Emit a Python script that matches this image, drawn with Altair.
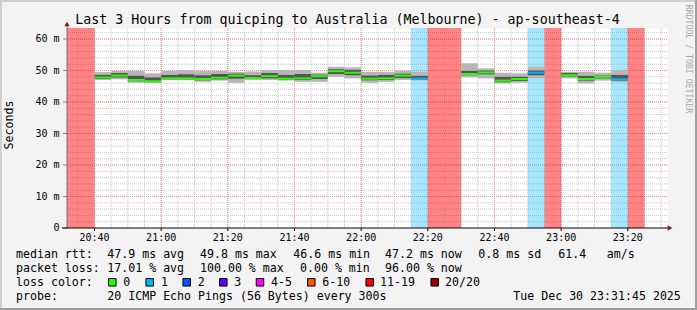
import altair as alt
import pandas as pd

FONT = "DejaVu Sans Mono"

# ---------------- data ----------------
slot_times = ["20:30", "20:35", "20:40", "20:45", "20:50", "20:55", "21:00", "21:05",
              "21:10", "21:15", "21:20", "21:25", "21:30", "21:35", "21:40", "21:45",
              "21:50", "21:55", "22:00", "22:05", "22:10", "22:15", "22:20", "22:25",
              "22:30", "22:35", "22:40", "22:45", "22:50", "22:55", "23:00", "23:05",
              "23:10", "23:15", "23:20"]
lost_pings = [20, 20, 0, 0, 0, 0, 0, 0, 0, 0, 0, 0, 0, 0, 0, 0, 0, 0, 0, 0, 0, 1, 20, 20,
              0, 0, 0, 0, 1, 20, 0, 0, 0, 1, 20]
median_ms = [None, None, 47.8, 48.4, 47.0, 46.6, 47.5, 47.5, 47.3, 47.7, 48.4, 47.6, 48.2,
             47.4, 47.5, 48.2, 49.8, 49.3, 47.4, 47.5, 48.4, 47.4, None, None,
             48.9, 49.4, 46.8, 47.3, 49.3, None, 48.5, 47.3, 48.0, 47.2, None]
smoke_lo = [None, None, 47.0, 47.2, 46.1, 46.1, 47.0, 47.0, 46.4, 46.8, 46.1, 47.0, 47.0,
            46.8, 46.4, 46.4, 48.0, 47.5, 46.1, 46.4, 47.0, 46.8, None, None,
            47.8, 47.5, 45.9, 46.1, 47.5, None, 47.5, 45.9, 46.8, 46.4, None]
smoke_hi = [None, None, 49.5, 49.9, 49.9, 49.1, 49.9, 50.1, 49.9, 49.9, 49.6, 49.7, 50.2,
            50.2, 50.2, 49.3, 51.2, 51.0, 49.6, 49.6, 50.0, 49.6, None, None,
            52.3, 50.7, 49.3, 49.1, 51.2, None, 49.6, 49.6, 49.3, 50.2, None]
core_lo = [None, None, 47.3, 47.8, 46.6, 46.3, 47.2, 47.2, 46.9, 47.2, 47.4, 47.3, 47.5,
           47.1, 47.0, 47.3, 48.9, 48.5, 46.9, 47.0, 47.6, 47.1, None, None,
           48.5, 48.8, 46.3, 46.7, 48.5, None, 48.1, 46.8, 47.5, 46.8, None]
core_hi = [None, None, 48.6, 49.2, 48.3, 47.8, 48.6, 48.8, 48.5, 48.9, 49.0, 48.5, 49.2,
           48.6, 48.9, 48.7, 50.4, 50.2, 48.4, 48.6, 49.0, 48.3, None, None,
           49.9, 50.0, 48.0, 48.0, 50.0, None, 49.2, 48.3, 48.4, 48.6, None]

title_text = "Last 3 Hours from quicping to Australia (Melbourne) - ap-southeast-4"
x_tick_labels = ["20:40", "21:00", "21:20", "21:40", "22:00", "22:20", "22:40", "23:00", "23:20"]
y_tick_values = [0, 10, 20, 30, 40, 50, 60]
y_tick_labels = ["0\u00a0\u00a0", "10\u00a0m", "20\u00a0m", "30\u00a0m", "40\u00a0m",
                 "50\u00a0m", "60\u00a0m"]
rtt_items = ["median rtt:", "47.9 ms avg", "49.8 ms max", "46.6 ms min", "47.2 ms now",
             "0.8 ms sd", "61.4", "am/s"]
loss_items = ["packet loss:", "17.01 % avg", "100.00 % max", "0.00 % min", "96.00 % now"]
loss_legend_labels = ["0", "1", "2", "3", "4-5", "6-10", "11-19", "20/20"]
loss_legend_colors = ["#26ff00", "#00b8ff", "#0059ff", "#5e00ff", "#ff00ff", "#ff5500",
                      "#ff0000", "#a10000"]
probe_items = ["probe:", "20 ICMP Echo Pings (56 Bytes) every 300s", "Tue Dec 30 23:31:45 2025"]


def to_min(s):
    h, m = s.split(":")
    return int(h) * 60 + int(m)


df = pd.DataFrame({
    "t": [to_min(s) for s in slot_times],
    "lost": lost_pings,
    "med": median_ms,
    "lo": smoke_lo,
    "hi": smoke_hi,
    "clo": core_lo,
    "chi": core_hi,
})

major_x = [to_min(s) for s in x_tick_labels]
minor_x = list(range(1235, 1411, 5))
minor_y = list(range(2, 63, 2))
major_y = [10, 20, 30, 40, 50, 60]

# ---------------- geometry ----------------
W, H = 600, 200
PL, PT = 67, 28
X0 = to_min("20:31") + 0.75
YMAX = 63.5
xscale = alt.Scale(domain=[X0, X0 + 180], nice=False, zero=False)
yscale = alt.Scale(domain=[0, YMAX], nice=False, zero=True)

base = alt.Chart(df).transform_calculate(t2="datum.t + 5")

# grid
grid_minor_x = alt.Chart(pd.DataFrame({"g": minor_x})).mark_rule(
    color="#c8c8c8", strokeWidth=1, strokeDash=[1, 1]).encode(
    x=alt.X("g:Q", scale=xscale, axis=None))
grid_minor_y = alt.Chart(pd.DataFrame({"g": minor_y})).mark_rule(
    color="#c8c8c8", strokeWidth=1, strokeDash=[1, 1]).encode(
    y=alt.Y("g:Q", scale=yscale, axis=None))
grid_major_x = alt.Chart(pd.DataFrame({"g": major_x})).mark_rule(
    color="#f08c8c", strokeWidth=1, strokeDash=[1, 1]).encode(
    x=alt.X("g:Q", scale=xscale, axis=None))
grid_major_y = alt.Chart(pd.DataFrame({"g": major_y})).mark_rule(
    color="#f08c8c", strokeWidth=1, strokeDash=[1, 1]).encode(
    y=alt.Y("g:Q", scale=yscale, axis=None))

# loss bands
band_base = base.transform_calculate(y0="0", y1=str(YMAX))
band_red = band_base.transform_filter("datum.lost >= 20").mark_rect(
    color="#ff0000", opacity=0.48, clip=True).encode(
    x=alt.X("t:Q", scale=xscale, axis=None), x2="t2:Q",
    y=alt.Y("y0:Q", scale=yscale, axis=None), y2="y1:Q")
band_blue = band_base.transform_filter("datum.lost > 0 && datum.lost < 20").mark_rect(
    color="#00b8ff", opacity=0.34, clip=True).encode(
    x=alt.X("t:Q", scale=xscale, axis=None), x2="t2:Q",
    y=alt.Y("y0:Q", scale=yscale, axis=None), y2="y1:Q")

# smoke
smoke_outer = base.transform_filter("isValid(datum.lo)").mark_rect(color="#b6b6b6").encode(
    x=alt.X("t:Q", scale=xscale, axis=None), x2="t2:Q",
    y=alt.Y("lo:Q", scale=yscale, axis=None), y2="hi:Q")
smoke_core = base.transform_filter("isValid(datum.clo)").mark_rect(color="#555555").encode(
    x=alt.X("t:Q", scale=xscale, axis=None), x2="t2:Q",
    y=alt.Y("clo:Q", scale=yscale, axis=None), y2="chi:Q")
median = base.transform_filter("isValid(datum.med)").mark_rule(strokeWidth=2).encode(
    x=alt.X("t:Q", scale=xscale, axis=None), x2="t2:Q",
    y=alt.Y("med:Q", scale=yscale, axis=None),
    color=alt.Color("lost:N", scale=alt.Scale(domain=[0, 1], range=["#26ff00", "#00b8ff"]),
                    legend=None))

# hand-made axes (ticks + labels through the scales)
xt = pd.DataFrame({"t": major_x, "lab": x_tick_labels})
yt = pd.DataFrame({"v": y_tick_values, "lab": y_tick_labels})
x_ticks = alt.Chart(xt).mark_rule(color="#000000", strokeWidth=1).encode(
    x=alt.X("t:Q", scale=xscale, axis=None), y=alt.value(H), y2=alt.value(H + 3))
x_labels = alt.Chart(xt).mark_text(font=FONT, fontSize=10, color="#000000", align="center",
                                   baseline="alphabetic").encode(
    x=alt.X("t:Q", scale=xscale, axis=None), y=alt.value(212.6), text="lab:N")
y_ticks = alt.Chart(yt).mark_rule(color="#808080", strokeWidth=1).encode(
    y=alt.Y("v:Q", scale=yscale, axis=None), x=alt.value(-4), x2=alt.value(0))
y_labels = alt.Chart(yt).mark_text(font=FONT, fontSize=10, color="#000000", align="right",
                                   baseline="middle").encode(
    y=alt.Y("v:Q", scale=yscale, axis=None), x=alt.value(-7.5), text="lab:N")

ONE = alt.Data(values=[{}])


def txt(s, x, y, size=11.6, align="left", baseline="alphabetic", angle=0, color="#000000"):
    kw = dict(text=s, font=FONT, fontSize=size, align=align, baseline=baseline, color=color)
    if angle:
        kw["angle"] = angle
    return alt.Chart(ONE).mark_text(**kw).encode(x=alt.value(x - PL), y=alt.value(y - PT))


def hrule(x1, x2, y, color, w):
    return alt.Chart(ONE).mark_rule(color=color, strokeWidth=w).encode(
        x=alt.value(x1 - PL), x2=alt.value(x2 - PL), y=alt.value(y - PT))


def vrule(x, y1, y2, color, w):
    return alt.Chart(ONE).mark_rule(color=color, strokeWidth=w).encode(
        x=alt.value(x - PL), y=alt.value(y1 - PT), y2=alt.value(y2 - PT))


def marker(shape, x, y, color, size):
    return alt.Chart(ONE).mark_point(shape=shape, filled=True, color=color, size=size,
                                     opacity=1).encode(
        x=alt.value(x - PL), y=alt.value(y - PT))


deco = []
# frame
deco.append(hrule(0, 697, 1, "#cfcfcf", 2))
deco.append(vrule(1, 0, 310, "#cfcfcf", 2))
deco.append(hrule(0, 697, 309, "#9e9e9e", 2))
deco.append(vrule(696, 0, 310, "#9e9e9e", 2))
# axis lines and arrows
deco.append(vrule(67, 23, 228.5, "#707070", 1))
deco.append(hrule(62, 670, 228, "#000000", 1))
deco.append(marker("triangle-up", 67, 24, "#7f1d1d", 28))
deco.append(marker("triangle-right", 670, 228, "#7f1d1d", 28))
# title and side texts
deco.append(txt(title_text, 347.5, 24, size=13.3, align="center"))
deco.append(txt("Seconds", 10, 125, size=11.6, align="center", baseline="middle", angle=270))
deco.append(txt("RRDTOOL / TOBI OETIKER", 687.5, 59, size=8.2, align="center",
                baseline="middle", angle=90, color="#a8a8a8"))

# legend lines
rtt_x = [16, 107.3, 200, 293.3, 385, 478.3, 558.3, 606.7]
for s, x in zip(rtt_items, rtt_x):
    deco.append(txt(s, x, 258.3))
loss_x = [16, 107.3, 200, 300, 385]
for s, x in zip(loss_items, loss_x):
    deco.append(txt(s, x, 272.3))
deco.append(txt("loss color:", 16, 286.3))
box_x = [112.3, 149.7, 186.7, 223.3, 260, 311.3, 369.7, 434.7]
lab_x = [123.3, 161, 197.7, 234.3, 271, 322.3, 380, 445]
for s, c, bx, lx in zip(loss_legend_labels, loss_legend_colors, box_x, lab_x):
    deco.append(alt.Chart(ONE).mark_point(shape="square", filled=True, fill=c, stroke="#000000",
                                          strokeWidth=1, size=56, opacity=1).encode(
        x=alt.value(bx - PL), y=alt.value(282.3 - PT)))
    deco.append(txt(s, lx, 286.3))
probe_x = [16, 107.3, 513.3]
for s, x in zip(probe_items, probe_x):
    deco.append(txt(s, x, 300))

chart = alt.layer(
    grid_minor_x, grid_minor_y, grid_major_x, grid_major_y,
    band_red, band_blue, smoke_outer, smoke_core, median,
    x_ticks, x_labels, y_ticks, y_labels, *deco
).properties(
    width=W, height=H,
    autosize=alt.AutoSizeParams(type="none"),
    padding={"left": PL, "top": PT, "right": 697 - PL - W, "bottom": 310 - PT - H},
    background="#f3f3f3",
).configure_view(strokeOpacity=0, fill="#ffffff")

chart.save("out.html", embed_options={"renderer": "svg", "actions": False})
